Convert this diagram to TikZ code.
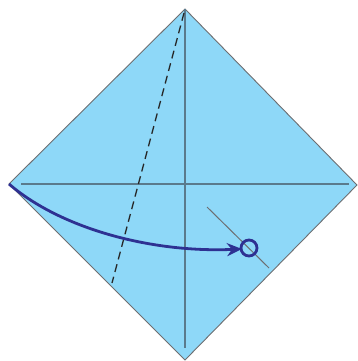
\documentclass[tikz,border=0pt]{standalone}
\usetikzlibrary{arrows.meta}
\definecolor{paper}{HTML}{8ED8F8}
\definecolor{edge}{HTML}{6D6E71}
\definecolor{creasec}{HTML}{5A7A8C}
\definecolor{arr}{HTML}{2E3192}
\begin{document}
\begin{tikzpicture}[x=1pt,y=-1pt,
  crease/.style={draw=creasec,line width=1.1pt},
  dashfold/.style={draw=black!85,line width=1.3pt,dash pattern=on 8pt off 5pt},
  movearrow/.style={draw=arr,line width=2.8pt,-{Stealth[length=15pt,width=13pt]}}]
\useasboundingbox (0,0) rectangle (357,361);
\coordinate (T) at (185,9);
\coordinate (L) at (9,184);
\coordinate (R) at (357,185);
\coordinate (B) at (185,360);
\fill[paper,draw=edge,line width=0.9pt] (T) -- (R) -- (B) -- (L) -- cycle;
\coordinate (h1) at (21,184);
\coordinate (h2) at (349,184);
\coordinate (v1) at (185,9);
\coordinate (v2) at (185,348);
\draw[crease] (h1) -- (h2);
\draw[crease] (v1) -- (v2);
\coordinate (d1) at (207,207);
\coordinate (d2) at (269,268);
\draw[crease,draw=edge,line width=1pt] (d1) -- (d2);
\coordinate (f1) at (184,13);
\coordinate (f2) at (112,283);
\draw[dashfold] (f1) -- (f2);
\coordinate (tip) at (242,249);
\draw[movearrow] (L) .. controls (60,228) and (150,253) .. (tip);
\node[draw=arr,line width=2.8pt,circle,minimum size=16pt,inner sep=0pt] (c) at (249,248) {};
\end{tikzpicture}
\end{document}
